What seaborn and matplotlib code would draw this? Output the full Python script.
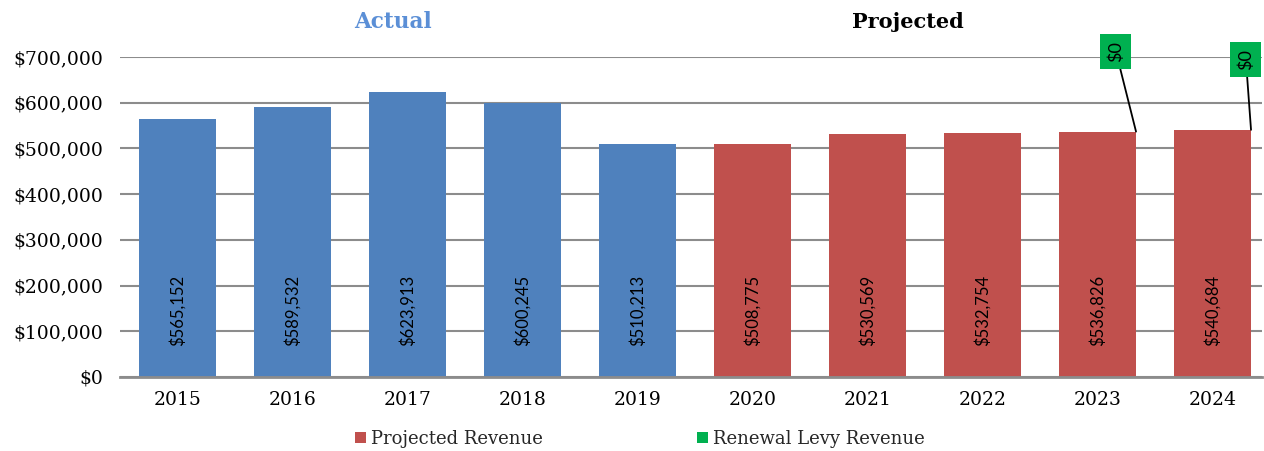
import matplotlib
matplotlib.use("Agg")
import matplotlib.pyplot as plt
import seaborn as sns
import pandas as pd
from matplotlib.patches import Patch
from matplotlib.ticker import FuncFormatter

years = ["2015", "2016", "2017", "2018", "2019", "2020", "2021", "2022", "2023", "2024"]
revenue = [565152, 589532, 623913, 600245, 510213, 508775, 530569, 532754, 536826, 540684]
series = ["Actual"] * 5 + ["Projected Revenue"] * 5
levy = [None, None, None, None, None, None, None, None, 0, 0]
yticks = [0, 100000, 200000, 300000, 400000, 500000, 600000, 700000]

BLUE = "#4F81BD"
RED = "#C0504D"
GREEN = "#00B050"
SERIF = "DejaVu Serif"
SANS = ["Lato", "DejaVu Sans"]

sns.set_theme(style="white")
plt.rcParams["font.family"] = [SERIF, "DejaVu Sans"]

df = pd.DataFrame({"Year": years, "Revenue": revenue, "Series": series})

fig = plt.figure(figsize=(12.64, 4.51), dpi=100)
ax = fig.add_axes([120 / 1264, 1 - 377 / 451, (1262 - 120) / 1264, (377 - 57) / 451])

sns.barplot(data=df, x="Year", y="Revenue", hue="Series",
            palette={"Actual": BLUE, "Projected Revenue": RED},
            dodge=False, width=0.67, saturation=1, legend=False, ax=ax,
            linewidth=0)
for p in ax.patches:
    p.set_zorder(3)
    p.set_edgecolor("none")

ax.set_xlim(-0.5, (1262 - 120) / 115 - 0.5)
ax.set_ylim(0, 700000)
ax.set_yticks(yticks)
ax.yaxis.set_major_formatter(FuncFormatter(lambda v, p: f"${v:,.0f}"))
ax.grid(axis="y", color="#8c8c8c", linewidth=1.5)
ax.set_axisbelow(True)
for s in ["top", "right", "left"]:
    ax.spines[s].set_visible(False)
ax.spines["bottom"].set_color("#8c8c8c")
ax.spines["bottom"].set_linewidth(2)
ax.spines["bottom"].set_zorder(4)
ax.set_xlabel("")
ax.set_ylabel("")
ax.tick_params(axis="both", length=0, labelsize=13.5, labelcolor="black")
ax.tick_params(axis="x", pad=10)
ax.tick_params(axis="y", pad=12)

# value labels inside bars
for i, v in enumerate(revenue):
    ax.text(i, 145000, f"${v:,.0f}", rotation=90, ha="center", va="center",
            fontsize=12, family=SANS, color="black", zorder=5)

# renewal levy callouts
callout_pos = {8: (8.16, 712000), 9: (9.29, 695000)}
for i, lv in enumerate(levy):
    if lv is None:
        continue
    ax.annotate(f"${lv:,.0f}", xy=(i + 0.335, revenue[i] + lv), xytext=callout_pos[i],
                textcoords="data", rotation=90, ha="center", va="center",
                fontsize=13, family=SANS, color="black",
                bbox=dict(boxstyle="square,pad=0.4", fc=GREEN, ec="none"),
                arrowprops=dict(arrowstyle="-", color="black", lw=1.3,
                                shrinkA=0, shrinkB=0),
                annotation_clip=False, zorder=6)

# section titles
fig.text(393 / 1264, 1 - 22 / 451, "Actual", ha="center", va="center",
         fontsize=15.5, fontweight="bold", color="#5B8FD6")
fig.text(908 / 1264, 1 - 22 / 451, "Projected", ha="center", va="center",
         fontsize=15, fontweight="bold", color="black")

handles = [Patch(facecolor=RED, edgecolor="none", label="Projected Revenue"),
           Patch(facecolor=GREEN, edgecolor="none", label="Renewal Levy Revenue")]
fig.legend(handles=handles, loc="center", bbox_to_anchor=(640 / 1264, 1 - 439 / 451),
           ncol=2, frameon=False, fontsize=13, handlelength=0.6, handleheight=0.6,
           handletextpad=0.3, columnspacing=8.5)

fig.savefig("out.png", dpi=100)
